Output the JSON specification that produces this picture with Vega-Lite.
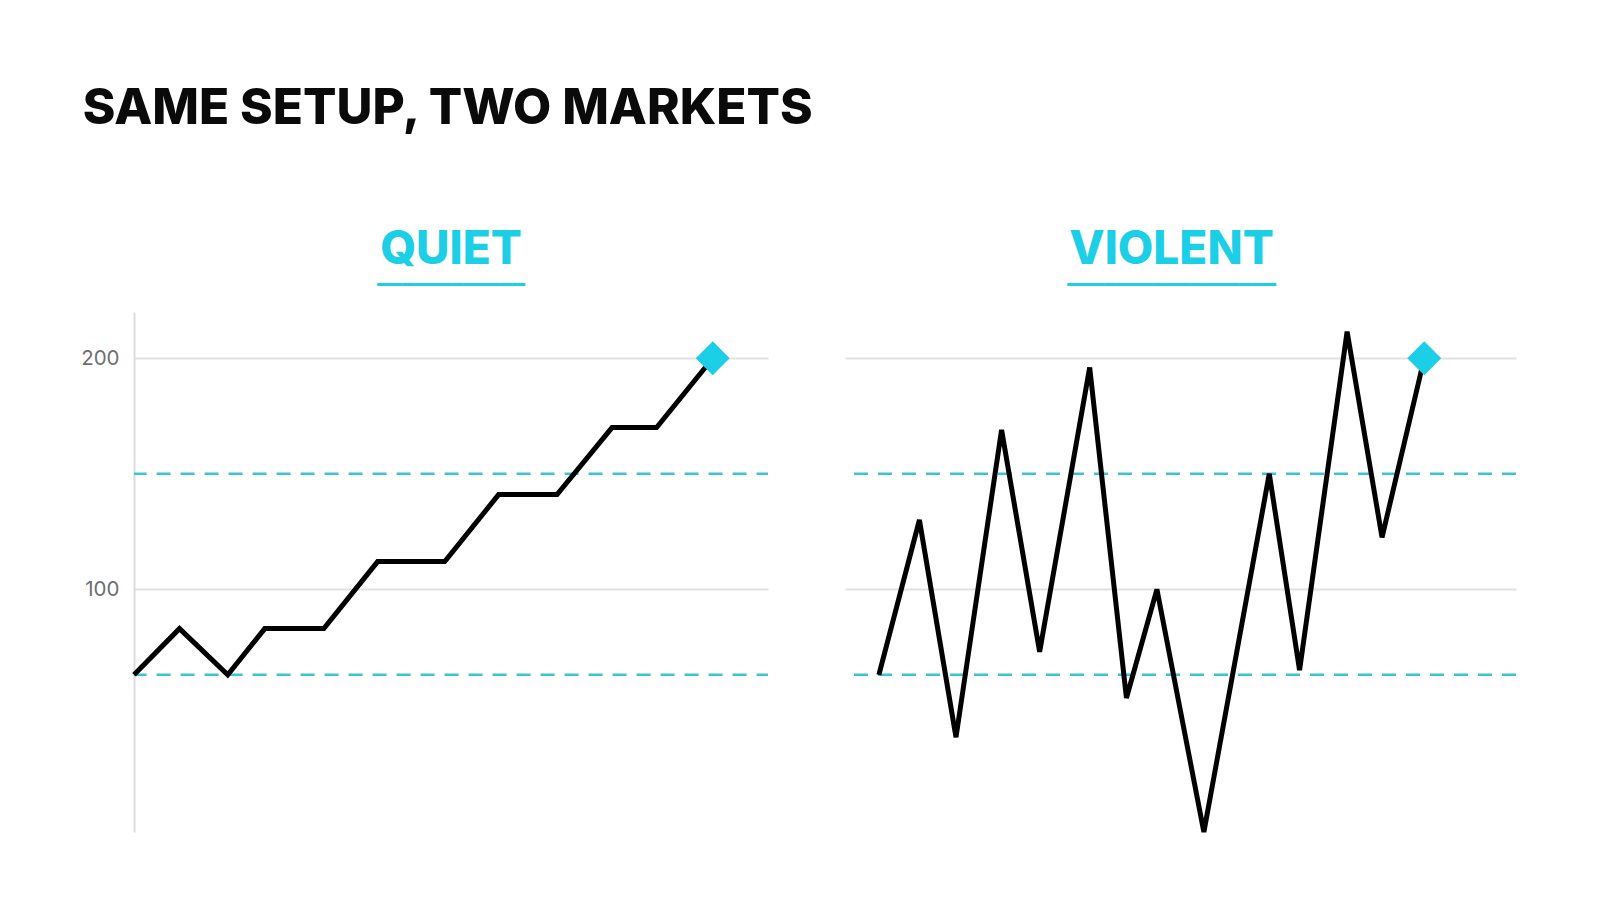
{
  "$schema": "https://vega.github.io/schema/vega-lite/v6.json",
  "background": "white",
  "padding": {"left": 80, "top": 84, "right": 20, "bottom": 20},
  "title": {
    "text": "SAME SETUP, TWO MARKETS",
    "anchor": "start",
    "font": "Inter",
    "fontSize": 49.5,
    "fontWeight": 800,
    "color": "#0a0a0a",
    "dx": 2,
    "offset": 92
  },
  "datasets": {
    "quiet": [
      {"t": 0, "v": 63}, {"t": 7.86, "v": 83}, {"t": 16.2, "v": 63}, {"t": 22.6, "v": 83},
      {"t": 32.8, "v": 83}, {"t": 42.1, "v": 112}, {"t": 53.7, "v": 112}, {"t": 63.0, "v": 141},
      {"t": 73.1, "v": 141}, {"t": 82.6, "v": 170}, {"t": 90.3, "v": 170}, {"t": 100, "v": 200}
    ],
    "quiet_entry": [{"t": 100, "v": 200}],
    "violent": [
      {"t": 5.84, "v": 63}, {"t": 12.83, "v": 130}, {"t": 19.14, "v": 36}, {"t": 27.0, "v": 169},
      {"t": 33.56, "v": 73}, {"t": 42.19, "v": 196}, {"t": 48.53, "v": 53}, {"t": 53.78, "v": 100},
      {"t": 61.88, "v": -5}, {"t": 73.16, "v": 150}, {"t": 78.38, "v": 65}, {"t": 86.58, "v": 211.5},
      {"t": 92.6, "v": 122.5}, {"t": 99.88, "v": 200}
    ],
    "violent_entry": [{"t": 99.88, "v": 200}],
    "levels": [{"v": 150}, {"v": 63}]
  },
  "spacing": 73,
  "hconcat": [
    {
      "width": 634,
      "height": 520,
      "title": {
        "text": "QUIET",
        "subtitle": "▔▔▔▔▔▔▔▔▔▔▔▔",
        "anchor": "middle",
        "font": "Inter",
        "fontSize": 46,
        "fontWeight": 800,
        "color": "#1ccfe6",
        "subtitleFont": "DejaVu Sans Mono",
        "subtitleFontSize": 20.4,
        "subtitleColor": "#1ccfe6",
        "subtitlePadding": 12,
        "offset": 5
      },
      "encoding": {
        "y": {
          "field": "v", "type": "quantitative",
          "scale": {"domain": [-5, 220], "nice": false},
          "axis": {
            "values": [100, 200], "title": null, "ticks": false,
            "domain": true, "domainColor": "#dcdcdc", "domainWidth": 2,
            "grid": true, "gridColor": "#e2e2e2", "gridWidth": 2,
            "labelFont": "Inter", "labelFontSize": 20.5, "labelColor": "#6f6f6f", "labelPadding": 15
          }
        }
      },
      "layer": [
        {
          "data": {"name": "levels"},
          "mark": {"type": "rule", "color": "#3cc3d6", "strokeWidth": 2.5, "strokeDash": [14, 10], "strokeDashOffset": 2.6}
        },
        {
          "data": {"name": "quiet"},
          "mark": {"type": "line", "color": "#000000", "strokeWidth": 5},
          "encoding": {
            "x": {"field": "t", "type": "quantitative", "scale": {"domain": [0, 109.55], "nice": false, "zero": false}, "axis": null}
          }
        },
        {
          "data": {"name": "quiet_entry"},
          "mark": {"type": "point", "shape": "diamond", "filled": true, "size": 1150, "color": "#1ccfe6", "opacity": 1},
          "encoding": {
            "x": {"field": "t", "type": "quantitative"}
          }
        }
      ]
    },
    {
      "width": 671,
      "height": 520,
      "title": {
        "text": "VIOLENT",
        "subtitle": "▔▔▔▔▔▔▔▔▔▔▔▔▔▔▔▔▔",
        "anchor": "middle",
        "dx": -9,
        "font": "Inter",
        "fontSize": 46,
        "fontWeight": 800,
        "color": "#1ccfe6",
        "subtitleFont": "DejaVu Sans Mono",
        "subtitleFontSize": 20.4,
        "subtitleColor": "#1ccfe6",
        "subtitlePadding": 12,
        "offset": 5
      },
      "encoding": {
        "y": {
          "field": "v", "type": "quantitative",
          "scale": {"domain": [-5, 220], "nice": false},
          "axis": {
            "values": [100, 200], "title": null, "ticks": false, "labels": false,
            "domain": false,
            "grid": true, "gridColor": "#e2e2e2", "gridWidth": 2
          }
        }
      },
      "layer": [
        {
          "data": {"name": "levels"},
          "mark": {"type": "rule", "color": "#3cc3d6", "strokeWidth": 2.5, "strokeDash": [14, 10]}
        },
        {
          "data": {"name": "violent"},
          "mark": {"type": "line", "color": "#000000", "strokeWidth": 5},
          "encoding": {
            "x": {"field": "t", "type": "quantitative", "scale": {"domain": [0, 115.7], "nice": false, "zero": false}, "axis": null}
          }
        },
        {
          "data": {"name": "violent_entry"},
          "mark": {"type": "point", "shape": "diamond", "filled": true, "size": 1150, "color": "#1ccfe6", "opacity": 1},
          "encoding": {
            "x": {"field": "t", "type": "quantitative"}
          }
        }
      ]
    }
  ],
  "config": {
    "view": {"stroke": null},
    "font": "Inter"
  }
}
